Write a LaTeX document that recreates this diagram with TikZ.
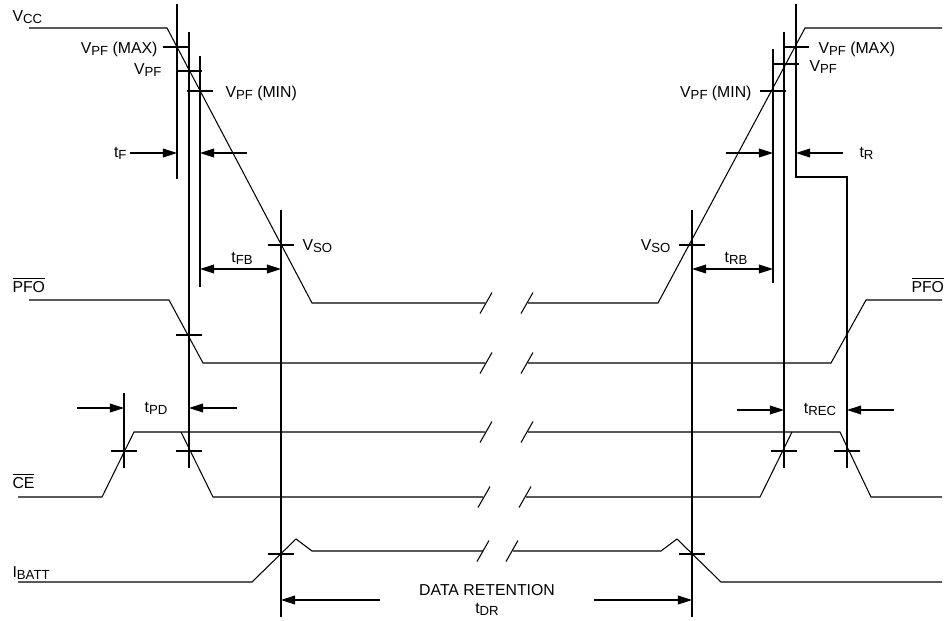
\documentclass[tikz,border=0pt]{standalone}
\usepackage{fontspec}
\setmainfont{Liberation Sans}
\usetikzlibrary{arrows.meta}
\newcommand{\lowsub}[1]{\raisebox{-0.35ex}{\fontsize{7.5}{8}\selectfont #1}}
\newcommand{\mytick}[2]
{
\draw (#1-13,#2) -- (#1+13,#2);
}
\newcommand{\mybreak}[2]
{
\draw (#1-6,#2+10.5) -- (#1+6,#2-10.5);
}
\tikzset{
  dim/.style={-{Triangle[length=8pt,width=5pt]}},
  dimboth/.style={{Triangle[length=8pt,width=5pt]}-{Triangle[length=8pt,width=5pt]}},
  lbl/.style={inner sep=0pt, font=\fontsize{9}{10}\selectfont}
}

\begin{document}
\begin{tikzpicture}[x=0.02cm, y=-0.02cm, line width=0.6pt]
  \useasboundingbox (0,0) rectangle (944,620);

  % waveforms
  \draw (29,28) -- (167,28) -- (312,303) -- (485,303);
  \draw (528,303) -- (658,303) -- (805,28) -- (942,28);
  \draw (29,300) -- (169,300) -- (203,363) -- (485,363);
  \draw (528,363) -- (831,363) -- (866,300) -- (942,300);
  \draw (18,497) -- (102,497) -- (134,432) -- (485,432);
  \draw (181,432) -- (213,497) -- (483,497);
  \draw (528,432) -- (840,432) -- (871,497) -- (942,497);
  \draw (526,497) -- (760,497) -- (792,432);
  \draw (18,582) -- (252,582) -- (296,539) -- (312,551) -- (483,551);
  \draw (513,551) -- (661,551) -- (677,539) -- (721,582) -- (942,582);

  \foreach \y in {303,363,432}
  {
    \mybreak{486}{\y}
    \mybreak{527}{\y}
  }
  \mybreak{484}{497}
  \mybreak{525}{497}
  \mybreak{483}{551}
  \mybreak{512}{551}

  % reference lines
  \draw (177,4) -- (177,179);
  \draw (189,32) -- (189,468);
  \draw (200,56) -- (200,287);
  \draw (281,210) -- (281,617);
  \draw (124,393) -- (124,468);
  \draw (692,210) -- (692,617);
  \draw (773,49) -- (773,283);
  \draw (784,32) -- (784,468);
  \draw (796,4) -- (796,177) -- (847,177) -- (847,468);

  \foreach \x/\y in {176/47,189/71,200/91,281/245,189/335,124/451,189/451,281/554,
                     796/47,786/64,773/91,692/245,784/451,847/451,692/554}
  {
    \mytick{\x}{\y}
  }

  % timing arrows
  \draw[dim] (130,153) -- (177,153);
  \draw[dim] (247,153) -- (200,153);
  \draw[dimboth] (200,269) -- (281,269);
  \draw[dim] (726,153) -- (773,153);
  \draw[dim] (843,153) -- (796,153);
  \draw[dimboth] (692,269) -- (773,269);
  \draw[dim] (77,408) -- (124,408);
  \draw[dim] (237,408) -- (189,408);
  \draw[dim] (737,410) -- (784,410);
  \draw[dim] (894,410) -- (847,410);
  \draw[dim] (380,600) -- (281,600);
  \draw[dim] (594,600) -- (692,600);

  % labels
  \node[lbl, anchor=base west] (vcc) at (12,21) {V\lowsub{CC}};
  \node[lbl, anchor=base east] (vmaxL) at (158,53) {V\lowsub{PF} (MAX)};
  \node[lbl, anchor=base east] (vpfL) at (162,74) {V\lowsub{PF}};
  \node[lbl, anchor=base west] (vminL) at (225,97) {V\lowsub{PF} (MIN)};
  \node[lbl, anchor=base east] (tf) at (127,157) {t\lowsub{F}};
  \node[lbl, anchor=base west] (vsoL) at (302,250) {V\lowsub{SO}};
  \node[lbl, anchor=base] (tfb) at (242,262) {t\lowsub{FB}};
  \node[lbl, anchor=base west] (pfoL) at (12,292) {$\overline{\mbox{PFO}}$};
  \node[lbl, anchor=base] (tpd) at (156,412) {t\lowsub{PD}};
  \node[lbl, anchor=base west] (ce) at (12,488) {$\overline{\mbox{CE}}$};
  \node[lbl, anchor=base west] (ibatt) at (12,577) {I\lowsub{BATT}};
  \node[lbl, anchor=base] (dr) at (487,595) {DATA RETENTION};
  \node[lbl, anchor=base] (tdr) at (487,613) {t\lowsub{DR}};

  \node[lbl, anchor=base west] (vmaxR) at (818,53) {V\lowsub{PF} (MAX)};
  \node[lbl, anchor=base west] (vpfR) at (809,71) {V\lowsub{PF}};
  \node[lbl, anchor=base east] (vminR) at (752,97) {V\lowsub{PF} (MIN)};
  \node[lbl, anchor=base west] (tr) at (859,157) {t\lowsub{R}};
  \node[lbl, anchor=base east] (vsoR) at (671,250) {V\lowsub{SO}};
  \node[lbl, anchor=base] (trb) at (736,262) {t\lowsub{RB}};
  \node[lbl, anchor=base west] (pfoR) at (911,292) {$\overline{\mbox{PFO}}$};
  \node[lbl, anchor=base] (trec) at (820,413) {t\lowsub{REC}};
\end{tikzpicture}
\end{document}
